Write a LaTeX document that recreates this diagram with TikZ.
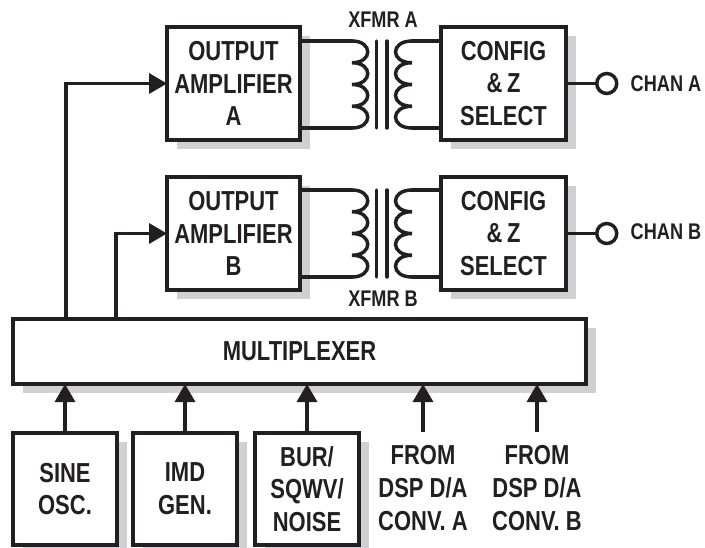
\documentclass[tikz,border=0pt]{standalone}
\usepackage{fontspec}
\setmainfont[FakeStretch=0.8]{Liberation Sans}
\usetikzlibrary{arrows.meta, positioning, shadows}
\definecolor{inkdark}{HTML}{231F20}
\definecolor{shade}{HTML}{CFD0D2}

\begin{document}
\begin{tikzpicture}[
  x=0.75pt, y=-0.75pt,
  color=inkdark,
  lbl/.style={font=\fontsize{20.6}{24.5}\selectfont\bfseries, align=center, inner sep=0pt},
  smalllbl/.style={font=\fontsize{17}{19}\selectfont\bfseries, inner sep=0pt},
  block/.style={rectangle, draw, line width=2.6pt, fill=white, lbl, outer sep=0pt,
               general shadow={fill=shade, draw=none, shadow xshift=7.2pt, shadow yshift=-7pt}},
  ampbox/.style={block, minimum width=99.75pt, minimum height=84.75pt,
               execute at begin node={\vspace*{2.5pt}}},
  srcbox/.style={block, minimum width=78pt, minimum height=84pt},
  wire/.style={line width=2.6pt, line cap=round},
  arr/.style={-{Triangle[length=13.5pt, width=15pt]}, line width=2.6pt},
  xfmr/.pic={
    \coordinate (-pt) at (0,0);
    \coordinate (-pb) at (0,87);
    \coordinate (-st) at (60,0);
    \coordinate (-sb) at (60,87);
    \draw[wire] (-pt) foreach \i in {1,...,4} { .. controls +(21,0) and +(21,0) .. ++(0,21.75) };
    \draw[wire] (-st) foreach \i in {1,...,4} { .. controls +(-22,0) and +(-22,0) .. ++(0,21.75) };
    \draw[wire] (24.5,0) -- (24.5,87);
    \draw[wire] (35,0) -- (35,87);
  }
]
\useasboundingbox[clip] (0,0) rectangle (705,547);

%% --- Output channels ---
\node[ampbox] (ampa) at (233.5,83.5) {OUTPUT\\AMPLIFIER\\A};
\node[ampbox, below=27.75pt of ampa] (ampb) {OUTPUT\\AMPLIFIER\\B};
\node[ampbox, minimum width=93.75pt, right=105.75pt of ampa] (cfga) {CONFIG\\\&\,Z\\SELECT};
\node[ampbox, minimum width=93.75pt, right=105.75pt of ampb] (cfgb) {CONFIG\\\&\,Z\\SELECT};

\node[circle, draw, line width=2.6pt, fill=white, minimum size=15pt, inner sep=0pt,
      right=21.75pt of cfga] (outa) {};
\node[circle, draw, line width=2.6pt, fill=white, minimum size=15pt, inner sep=0pt,
      right=21.75pt of cfgb] (outb) {};
\node[smalllbl, right=9pt of outa] (chana) {CHAN A};
\node[smalllbl, right=9pt of outb, yshift=1pt] (chanb) {CHAN B};

\draw[wire] (cfga) -- (outa);
\draw[wire] (cfgb) -- (outb);

%% --- Transformers ---
\pic (xa) at (352,41) {xfmr};
\pic (xb) at (352,190) {xfmr};
\node[smalllbl] (xfmra) at (383,20) {XFMR A};
\node[smalllbl] (xfmrb) at (383,299) {XFMR B};

\draw[wire] (xa-pt -| ampa.east) -- (xa-pt);
\draw[wire] (xa-pb -| ampa.east) -- (xa-pb);
\draw[wire] (xa-st -| cfga.west) -- (xa-st);
\draw[wire] (xa-sb -| cfga.west) -- (xa-sb);
\draw[wire] (xb-pt -| ampb.east) -- (xb-pt);
\draw[wire] (xb-pb -| ampb.east) -- (xb-pb);
\draw[wire] (xb-st -| cfgb.west) -- (xb-st);
\draw[wire] (xb-sb -| cfgb.west) -- (xb-sb);

%% --- Multiplexer and sources ---
\node[block, minimum width=429.75pt, minimum height=48.75pt] (mux) at (299.5,351.5) {MULTIPLEXER};
\coordinate (muxa) at (66,319);
\coordinate (muxb) at (116,319);
\draw[arr] (muxa) |- (ampa.west);
\draw[arr] (muxb) |- (ampb.west);

\node[srcbox] (sine) at (65,489) {SINE\\OSC.};
\node[srcbox, right=12pt of sine] (imd) {IMD\\GEN.};
\node[srcbox, right=13.5pt of imd] (bur) {BUR/\\SQWV/\\NOISE};
\node[lbl] (froma) at (423,488) {FROM\\DSP D/A\\CONV. A};
\node[lbl] (fromb) at (537,488) {FROM\\DSP D/A\\CONV. B};

\draw[arr] (sine) -- (sine |- mux.south);
\draw[arr] (imd) -- (imd |- mux.south);
\draw[arr] (bur) -- (bur |- mux.south);
\coordinate (froma-top) at (423,432);
\coordinate (fromb-top) at (537,432);
\draw[arr] (froma-top) -- (froma-top |- mux.south);
\draw[arr] (fromb-top) -- (fromb-top |- mux.south);

\end{tikzpicture}
\end{document}
